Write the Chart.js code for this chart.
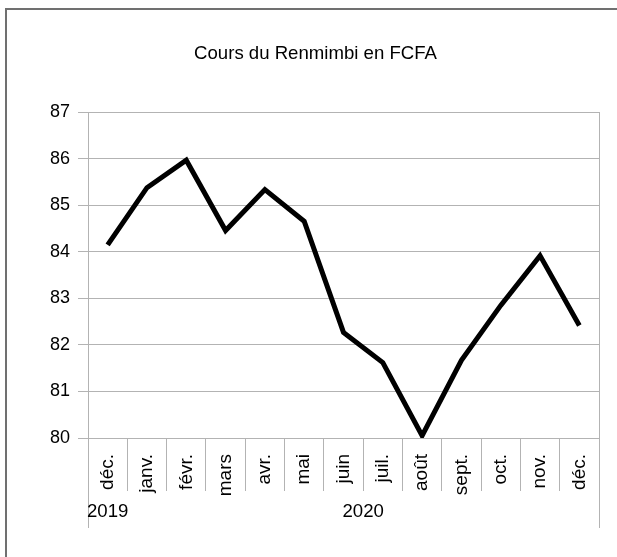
<!DOCTYPE html>
<html>
<head>
<meta charset="utf-8">
<script src="https://cdn.jsdelivr.net/npm/chart.js@4/dist/chart.umd.min.js"></script>
<style>
  html, body { margin: 0; padding: 0; background: #fff; overflow: hidden; }
  #wrap { position: relative; width: 617px; height: 557px; }
  #frame { position: absolute; left: 5px; top: 8px; width: 700px; height: 700px; border: 2px solid #707070; }
  canvas { position: absolute; left: 0; top: 0; }
</style>
</head>
<body>
<div id="wrap">
  <div id="frame"></div>
  <canvas id="chart" width="617" height="557"></canvas>
</div>
<script>
const title = "Cours du Renmimbi en FCFA";
const months = ["déc.", "janv.", "févr.", "mars", "avr.", "mai", "juin", "juil.", "août", "sept.", "oct.", "nov.", "déc."];
const monthYears = ["2019", "2020", "2020", "2020", "2020", "2020", "2020", "2020", "2020", "2020", "2020", "2020", "2020"];
const rates = [84.15, 85.38, 85.97, 84.46, 85.34, 84.66, 82.27, 81.62, 80.05, 81.67, 82.85, 83.92, 82.42];
const yMin = 80;
const yMax = 87;

const gray = "#b3b3b3";
const font = "'Liberation Sans', Arial, sans-serif";

// group consecutive months by year for the second label row
const yearGroups = [];
monthYears.forEach((y, i) => {
  const last = yearGroups[yearGroups.length - 1];
  if (last && last.year === y) last.end = i;
  else yearGroups.push({ year: y, start: i, end: i });
});
const groupCenter = (g) => (g.start + g.end) / 2;
const yearAt = (v) => {
  const g = yearGroups.find((g) => groupCenter(g) === v);
  return g ? g.year : "";
};

new Chart(document.getElementById("chart"), {
  type: "line",
  data: {
    labels: months,
    datasets: [
      {
        data: rates,
        borderColor: "#000",
        borderWidth: 5,
        pointRadius: 0,
        tension: 0,
        borderJoinStyle: "miter",
        xAxisID: "x",
        yAxisID: "y",
      },
    ],
  },
  options: {
    responsive: false,
    animation: false,
    layout: { padding: { left: 14, right: 0, top: 0, bottom: 28 } },
    plugins: {
      legend: { display: false },
      tooltip: { enabled: false },
      title: {
        display: true,
        text: title,
        color: "#000",
        font: { family: font, size: 18.6, weight: "normal" },
        padding: { top: 43, bottom: 47 },
      },
    },
    scales: {
      // month row: separators run 53px below the axis
      x: {
        type: "category",
        position: "bottom",
        weight: 0,
        offset: true,
        grid: { offset: true, drawOnChartArea: false, color: gray, tickLength: 53 },
        border: { display: false },
        ticks: {
          color: "#000",
          font: { family: font, size: 19 },
          minRotation: 90,
          maxRotation: 90,
          autoSkip: false,
          padding: -37,
        },
        afterFit: (s) => { s.height = 62; },
      },
      // year row labels
      x2: {
        type: "linear",
        position: "bottom",
        weight: 1,
        min: -0.5,
        max: months.length - 0.5,
        grid: { display: false, drawTicks: false },
        border: { display: false },
        ticks: {
          color: "#000",
          font: { family: font, size: 18.6 },
          maxRotation: 0,
          autoSkip: false,
          padding: 1,
          callback: (v) => yearAt(v),
        },
        afterBuildTicks: (s) => {
          s.ticks = yearGroups.map((g) => ({ value: groupCenter(g) }));
        },
        afterFit: (s) => { s.height = 28; },
      },
      // outer edge lines of the category block, drawn upwards from the bottom
      x3: {
        type: "linear",
        position: "bottom",
        weight: 2,
        min: -0.5,
        max: months.length - 0.5,
        grid: { drawOnChartArea: false, color: gray, tickLength: -39 },
        border: { display: false },
        ticks: { display: false },
        afterBuildTicks: (s) => {
          s.ticks = [{ value: -0.5 }, { value: months.length - 0.5 }];
        },
        afterFit: (s) => { s.height = 1; },
      },
      y: {
        position: "left",
        min: yMin,
        max: yMax,
        grid: { color: gray, tickLength: 10 },
        border: { color: gray },
        ticks: {
          stepSize: 1,
          color: "#000",
          font: { family: font, size: 18 },
          padding: 8,
        },
        afterFit: (s) => { s.width = 74; },
      },
      y2: {
        position: "right",
        min: yMin,
        max: yMax,
        grid: { drawOnChartArea: false, drawTicks: false },
        border: { color: gray },
        ticks: { display: false },
        afterFit: (s) => { s.width = 18; },
      },
    },
  },
});
</script>
</body>
</html>
